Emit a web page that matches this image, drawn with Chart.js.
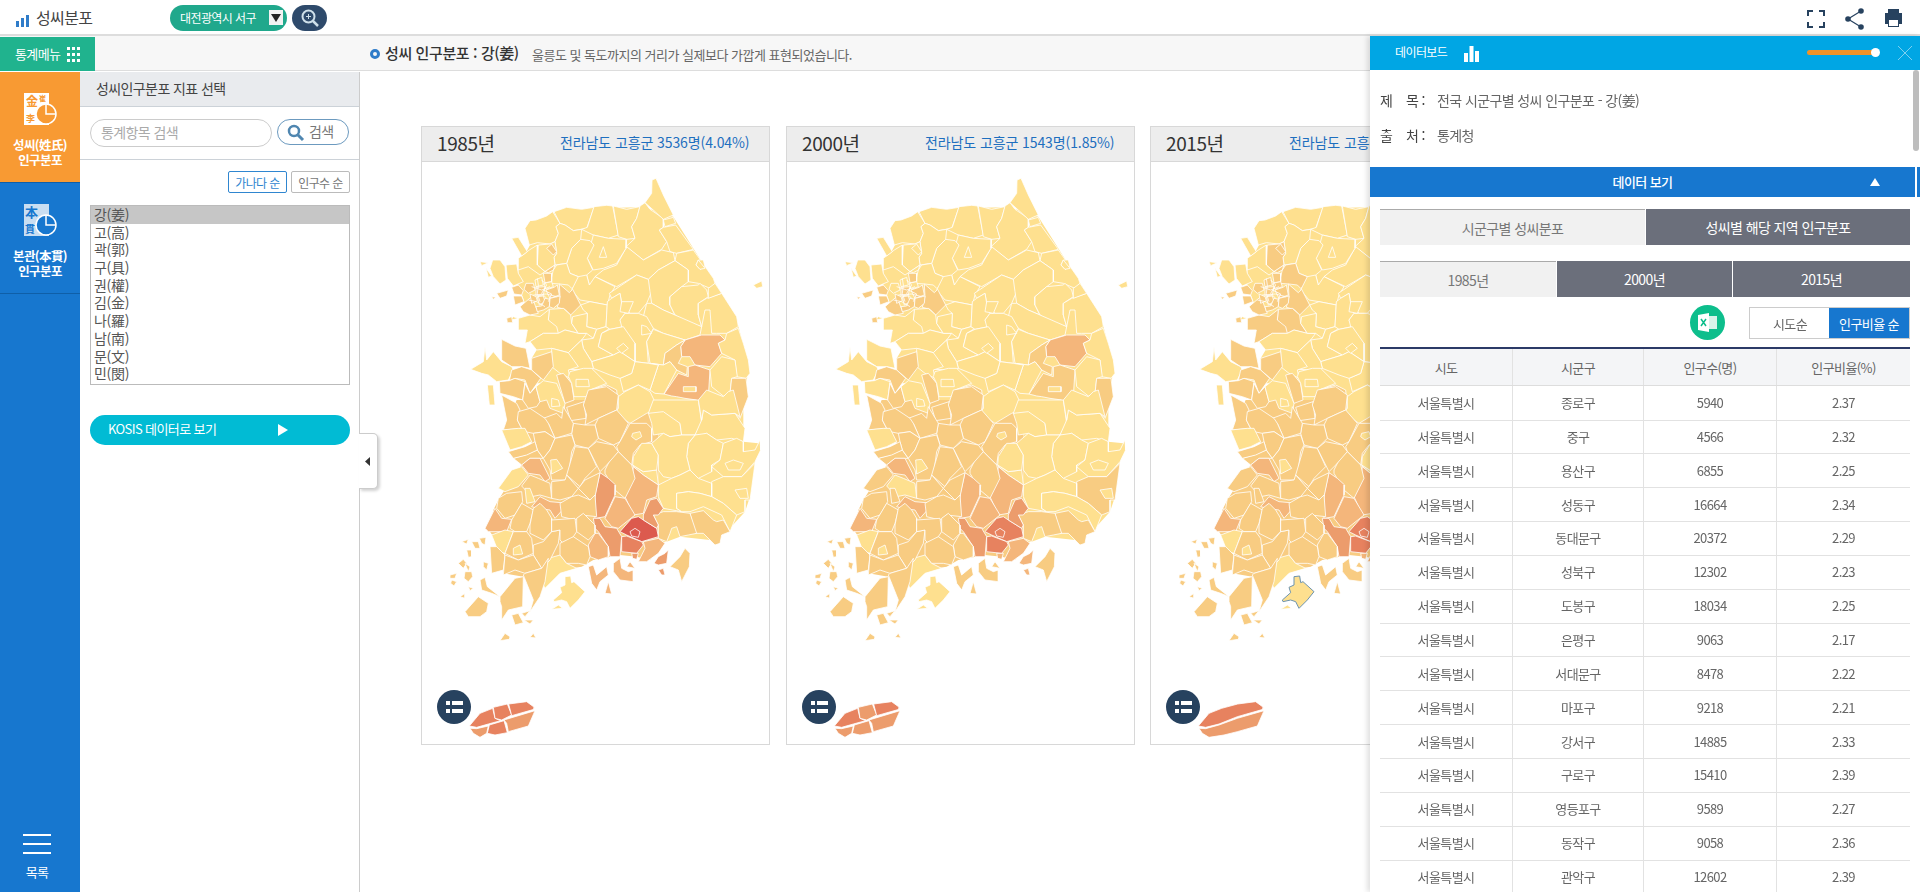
<!DOCTYPE html>
<html lang="ko">
<head>
<meta charset="utf-8">
<title>성씨분포</title>
<script src="https://cdn.jsdelivr.net/npm/chart.js@4/dist/chart.umd.min.js"></script>
<style>
html,body{margin:0;padding:0;width:1920px;height:892px;overflow:hidden;background:#fff;font-family:"Noto Sans CJK KR","Noto Sans",sans-serif;letter-spacing:-.6px}
.a{position:absolute;box-sizing:border-box;white-space:nowrap}
.c{display:flex;align-items:center;justify-content:center}
.box{position:absolute;top:126px;height:619px;width:349px;border:1px solid #d8d8d8;background:#fff;box-sizing:border-box}
.box .hd{position:absolute;left:0;top:0;right:0;height:34px;background:#ededed;border-bottom:1px solid #d8d8d8}
.box .yr{position:absolute;left:15px;top:2px;font-size:19px;color:#333;letter-spacing:-.4px}
.box .cap{position:absolute;left:138px;top:5px;font-size:14px;color:#1e6fbf;letter-spacing:-.1px}
.map{position:absolute;top:170px;width:320px;height:580px}
.lg{position:absolute;top:690px;width:34px;height:34px;border-radius:50%;background:#27425f}
.lg i{position:absolute;background:#fff;height:4px}
.row{position:absolute;left:1380px;width:530px;height:34px;border-bottom:1px solid #e2e2e2;font-size:13px;color:#666}
.row span,.th span{position:absolute;top:0;bottom:0;display:flex;align-items:center;justify-content:center;border-right:1px solid #e2e2e2;box-sizing:border-box}
.th span{font-size:13px;color:#666}
.s1{left:0;width:133px}.s2{left:133px;width:131px}.s3{left:264px;width:133px}.s4{left:397px;width:133px;border-right:0!important}
#list div{height:17.700px;line-height:17.700px;padding-left:3px;font-size:14px;color:#555;letter-spacing:-.3px}
</style>
</head>
<body>
<!-- top bar -->
<div class="a" style="left:0;top:0;width:1920px;height:36px;border-bottom:2px solid #ddd"></div>
<svg class="a" style="left:15px;top:14px" width="15" height="13"><rect x="1" y="7" width="3" height="6" fill="#2f7cc9"/><rect x="6" y="4" width="3" height="9" fill="#2f7cc9"/><rect x="11" y="1" width="3" height="12" fill="#2f7cc9"/></svg>
<div class="a" style="left:36px;top:5px;font-size:16px;color:#444">성씨분포</div>
<div class="a" style="left:170px;top:5px;width:117px;height:26px;border-radius:13px;background:#20a88c;color:#fff;font-size:12px;padding:4px 0 0 10px">대전광역시 서구</div>
<div class="a c" style="left:269px;top:10px;width:14px;height:15px;background:#f2f2f2"><svg width="10" height="8"><path d="M0 0H10L5 8Z" fill="#222"/></svg></div>
<div class="a c" style="left:292px;top:5px;width:35px;height:26px;border-radius:13px;background:#2e4a6b"><svg width="20" height="20"><circle cx="8.5" cy="8.5" r="6" fill="none" stroke="#cfe0ea" stroke-width="2"/><path d="M13 13L18 18" stroke="#cfe0ea" stroke-width="2.5"/><path d="M6 8.500H11M8.500 6V11" stroke="#cfe0ea"/></svg></div>
<svg class="a" style="left:1806px;top:8px" width="106" height="22"><path d="M2 7V2H7M13 2H18V7M18 13V18H13M7 18H2V13" transform="translate(0,1)" fill="none" stroke="#27425f" stroke-width="2"/>
<circle cx="42" cy="11" r="2.800" fill="#27425f"/><circle cx="55" cy="3" r="2.800" fill="#27425f"/><circle cx="55" cy="19" r="2.800" fill="#27425f"/><path d="M55 3L42 11L55 19" fill="none" stroke="#27425f" stroke-width="1.200"/>
<g transform="translate(-6,0)"><path d="M88 5V1H99V5H102V16H99V19H88V16H85V5Z" fill="#27425f"/><rect x="89" y="12" width="9" height="6" fill="#fff"/></g></svg>
<!-- menu strip -->
<div class="a" style="left:0;top:36px;width:1920px;height:35px;background:#f7f7f7;border-bottom:1px solid #ddd"></div>
<div class="a" style="left:0;top:37px;width:95px;height:34px;background:#20b38e;color:#fff;font-size:13px;padding:7px 0 0 15px">통계메뉴</div>
<svg class="a" style="left:67px;top:47px" width="14" height="16" fill="#fff"><rect x="0" y="0" width="3" height="3"/><rect x="5" y="0" width="3" height="3"/><rect x="10" y="0" width="3" height="3"/><rect x="0" y="6" width="3" height="3"/><rect x="5" y="6" width="3" height="3"/><rect x="10" y="6" width="3" height="3"/><rect x="0" y="12" width="3" height="3"/><rect x="5" y="12" width="3" height="3"/><rect x="10" y="12" width="3" height="3"/></svg>
<svg class="a" style="left:370px;top:48px" width="12" height="12"><circle cx="5" cy="6" r="3.500" fill="none" stroke="#2f7cc9" stroke-width="3"/></svg>
<div class="a" style="left:385px;top:42px;font-size:15px;color:#333;font-weight:500;letter-spacing:-.4px">성씨 인구분포 : 강(姜)</div>
<div class="a" style="left:532px;top:45px;font-size:13px;color:#666;letter-spacing:-.5px">울릉도 및 독도까지의 거리가 실제보다 가깝게 표현되었습니다.</div>
<!-- left rail -->
<div class="a" style="left:0;top:72px;width:80px;height:820px;background:#1777cf"></div>
<div class="a" style="left:0;top:72px;width:80px;height:110px;background:#f89a33"></div>
<div class="a" style="left:0;top:182px;width:80px;height:1px;background:#0f5fa8"></div>
<div class="a" style="left:0;top:293px;width:80px;height:1px;background:#0f5fa8"></div>
<svg class="a" style="left:22px;top:92px" width="36" height="34"><rect x="2" y="1" width="25" height="32" fill="#fff"/><text x="4" y="14" font-size="12" font-weight="700" fill="#f89a33">金</text><text x="17" y="9" font-size="7" font-weight="700" fill="#f89a33">崔</text><text x="4" y="30" font-size="9" font-weight="700" fill="#f89a33">李</text><circle cx="24" cy="22" r="10" fill="#f89a33" stroke="#fff" stroke-width="1.500"/><path d="M24 12V22H34" fill="none" stroke="#fff" stroke-width="1.500"/></svg>
<div class="a" style="left:0;top:137px;width:80px;text-align:center;color:#fff;font-size:12.500px;font-weight:700;line-height:15px">성씨(姓氏)<br>인구분포</div>
<svg class="a" style="left:22px;top:203px" width="36" height="34"><rect x="2" y="1" width="25" height="32" fill="#c9def2"/><text x="3" y="14" font-size="13" font-weight="700" fill="#1777cf">本</text><text x="3" y="30" font-size="10" font-weight="700" fill="#1777cf">貫</text><circle cx="24" cy="22" r="10" fill="#1777cf" stroke="#fff" stroke-width="1.500"/><path d="M24 12V22H34" fill="none" stroke="#fff" stroke-width="1.500"/></svg>
<div class="a" style="left:0;top:248px;width:80px;text-align:center;color:#fff;font-size:12.500px;font-weight:700;line-height:15px">본관(本貫)<br>인구분포</div>
<div class="a" style="left:23px;top:834px;width:28px;height:2px;background:#fff"></div>
<div class="a" style="left:23px;top:843px;width:28px;height:2px;background:#fff"></div>
<div class="a" style="left:23px;top:852px;width:28px;height:2px;background:#fff"></div>
<div class="a" style="left:0;top:862px;width:74px;text-align:center;color:#fff;font-size:13px">목록</div>
<!-- indicator panel -->
<div class="a" style="left:80px;top:72px;width:280px;height:820px;border-right:1px solid #ccc"></div>
<div class="a" style="left:80px;top:72px;width:279px;height:35px;background:#e9ebee;border-bottom:1px solid #ccd2d8;font-size:14px;color:#444;padding:6px 0 0 16px">성씨인구분포 지표 선택</div>
<div class="a" style="left:90px;top:119px;width:182px;height:28px;border:1px solid #ccc;border-radius:14px;font-size:14px;color:#aaa;padding:2px 0 0 10px">통계항목 검색</div>
<div class="a" style="left:277px;top:119px;width:72px;height:26px;border:1px solid #6c9abf;border-radius:13px;font-size:14px;color:#777;padding:1px 0 0 31px">검색</div>
<svg class="a" style="left:287px;top:124px" width="18" height="18"><circle cx="7" cy="7" r="5" fill="none" stroke="#4f86b0" stroke-width="2.500"/><path d="M11 11L16 16" stroke="#4f86b0" stroke-width="3"/></svg>
<div class="a" style="left:80px;top:159px;width:279px;height:1px;background:#ccd2d8"></div>
<div class="a c" style="left:228px;top:171px;width:59px;height:22px;border:1px solid #2f86d0;border-radius:2px;font-size:12px;color:#2f86d0">가나다 순</div>
<div class="a c" style="left:291px;top:171px;width:59px;height:22px;border:1px solid #bbb;border-radius:2px;font-size:12px;color:#777">인구수 순</div>
<div class="a" id="list" style="left:90px;top:205px;width:260px;height:180px;border:1px solid #bbb"></div>
<div class="a" style="left:90px;top:415px;width:260px;height:30px;border-radius:15px;background:#01bbd4;color:#fff;font-size:13px;padding:4px 0 0 18px">KOSIS 데이터로 보기</div>
<svg class="a" style="left:278px;top:424px" width="11" height="12"><path d="M0 0L10 6L0 12Z" fill="#fff"/></svg>
<div class="a c" style="left:359px;top:433px;width:19px;height:56px;background:#fff;border:1px solid #ccc;border-left:0;border-radius:0 5px 5px 0;box-shadow:2px 2px 3px rgba(0,0,0,.18)"><svg width="6" height="9"><path d="M5 0V9L0 4.500Z" fill="#333"/></svg></div>
<!-- map boxes are added here -->
<div id="maps"></div>
<!-- data board -->
<div class="a" style="left:1370px;top:36px;width:550px;height:856px;background:#fff;box-shadow:-3px 0 5px rgba(0,0,0,.12)"></div>
<div class="a" style="left:1370px;top:36px;width:550px;height:34px;background:#00a6e4"></div>
<div class="a" style="left:1395px;top:43px;font-size:12px;color:#fff">데이터보드</div>
<svg class="a" style="left:1464px;top:46px" width="15" height="16" fill="#fff"><rect x="0" y="7" width="4" height="9"/><rect x="5.500" y="0" width="4" height="16"/><rect x="11" y="5" width="4" height="11"/></svg>
<div class="a" style="left:1807px;top:50px;width:70px;height:5px;border-radius:3px;background:#f09227"></div>
<div class="a" style="left:1871px;top:48px;width:9px;height:9px;border-radius:50%;background:#fff"></div>
<svg class="a" style="left:1898px;top:46px" width="14" height="14"><path d="M0 0L14 14M14 0L0 14" stroke="#7fd0ef" stroke-width="1"/></svg>
<div class="a" style="left:1380px;top:90px;font-size:14px;color:#444">제</div>
<div class="a" style="left:1406px;top:90px;font-size:14px;color:#444">목 :</div>
<div class="a" style="left:1437px;top:90px;font-size:14px;color:#666">전국 시군구별 성씨 인구분포 - 강(姜)</div>
<div class="a" style="left:1380px;top:125px;font-size:14px;color:#444">출</div>
<div class="a" style="left:1406px;top:125px;font-size:14px;color:#444">처 :</div>
<div class="a" style="left:1437px;top:125px;font-size:14px;color:#666">통계청</div>
<div class="a" style="left:1913px;top:70px;width:6px;height:81px;border-radius:3px;background:#bdbdbd"></div>
<div class="a c" style="left:1370px;top:167px;width:545px;height:30px;background:#1777cf;color:#fff;font-size:13px;font-weight:500;padding-bottom:2px">데이터 보기</div>
<div class="a" style="left:1917px;top:167px;width:3px;height:30px;background:#1777cf"></div>
<svg class="a" style="left:1870px;top:178px" width="10" height="8"><path d="M5 0L10 8H0Z" fill="#fff"/></svg>
<div class="a c" style="left:1380px;top:209px;width:265px;height:36px;background:#f1f1f1;border-top:1px solid #aaa;color:#777;font-size:14px">시군구별 성씨분포</div>
<div class="a c" style="left:1646px;top:209px;width:264px;height:36px;background:#6b6f7b;color:#fff;font-size:14px">성씨별 해당 지역 인구분포</div>
<div class="a c" style="left:1380px;top:261px;width:176px;height:36px;background:#f1f1f1;border-top:1px solid #aaa;color:#777;font-size:14px">1985년</div>
<div class="a c" style="left:1557px;top:261px;width:175px;height:36px;background:#6b6f7b;color:#fff;font-size:14px">2000년</div>
<div class="a c" style="left:1733px;top:261px;width:177px;height:36px;background:#6b6f7b;color:#fff;font-size:14px">2015년</div>
<div class="a" style="left:1690px;top:305px;width:35px;height:35px;border-radius:50%;background:#0dbe8c"></div>
<svg class="a" style="left:1698px;top:313px" width="20" height="19"><rect x="9" y="3" width="10" height="13" fill="#d8f3ea"/><path d="M0 2L11 0V19L0 17Z" fill="#fff"/><path d="M3 6L8 13M8 6L3 13" stroke="#0dbe8c" stroke-width="1.500"/></svg>
<div class="a c" style="left:1749px;top:307px;width:81px;height:32px;border:1px solid #ccc;border-right:0;font-size:13px;color:#666">시도순</div>
<div class="a c" style="left:1829px;top:307px;width:81px;height:32px;border:1px solid #ccc;border-left:0;background:#1777cf;color:#fff;font-size:13px">인구비율 순</div>
<div class="a" style="left:1380px;top:347px;width:530px;height:2px;background:#2b3a67"></div>
<div class="a th" style="left:1380px;top:349px;width:530px;height:37px;background:#f4f5f7;border-bottom:1px solid #ddd" id="thead"></div>
<div id="tbody"></div>

<script>
// header texts
const surnames = ['강(姜)','고(高)','곽(郭)','구(具)','권(權)','김(金)','나(羅)','남(南)','문(文)','민(閔)'];
const years = ['1985년','2000년','2015년'];
// the 2015 caption runs under the data board, only its start can be read
const captions = ['전라남도 고흥군 3536명(4.04%)','전라남도 고흥군 1543명(1.85%)','전라남도 고흥군'];
const tableHead = ['시도','시군구','인구수(명)','인구비율(%)'];

// table
const cityNames = ['종로구','중구','용산구','성동구','동대문구','성북구','도봉구','은평구','서대문구','마포구','강서구','구로구','영등포구','동작구','관악구'];
const cityPeople = [5940,4566,6855,16664,20372,12302,18034,9063,8478,9218,14885,15410,9589,9058,12602];
const cityShare = [2.37,2.32,2.25,2.34,2.29,2.23,2.25,2.17,2.22,2.21,2.33,2.39,2.27,2.36,2.39];

// shade class colours, light to dark
const classColors = ['#fee08f','#f8cc82','#f4b67b','#ec9c6c','#e7825f','#dc5a4e'];

// plain land under the regions, so no paper shows between them
const landNorth = [240,225,310,130,430,115,570,112,610,120,670,140,790,330,860,450,895,580,890,640,870,740,500,740,350,700,270,640,190,640,190,610,245,600,245,565,260,540,230,500,250,440,225,400,205,345,205,290];
const landSouthWest = [160,90,245,125,240,160,215,195,170,260,145,300,130,330,120,395,165,460,160,520,220,530,270,585,285,540,330,510,395,500,430,480,510,465,560,470,600,480,625,430,625,0,200,0];
const landSouthEast = [625,0,625,430,650,425,690,410,780,420,835,390,885,335,900,290,915,185,925,130,880,125,880,0];

// region outlines: code = shade class in 1985/2000/2015, then [u,v] points
const northRegions = [
['000',[225,175,240,152,258,150,290,138,308,125,330,160,318,170,325,190,315,215,300,222,262,218,238,225]],
['000',[312,125,350,112,395,118,432,112,410,175,370,182,345,165,330,160]],
['000',[432,110,470,106,488,108,505,195,475,205,430,195,395,178,412,172]],
['000',[490,108,530,118,570,110,560,145,545,170,555,205,530,208,505,200]],
['000',[570,108,585,98,600,118,640,145,640,172,628,180,650,215,635,238,580,270,528,230,555,205,545,170,560,145]],
['000',[585,98,605,70,606,30,618,25,640,75,670,135,640,148,612,122]],
['000',[640,150,670,142,677,160,645,170]],
['000',[677,165,730,238,680,250,660,245,650,215,628,180,640,172]],
['000',[730,240,750,268,790,325,795,340,780,355,745,340,715,335,715,300,675,272,680,250]],
['000',[580,270,635,240,670,248,675,272,625,300,595,328,560,315,500,350,435,320,460,300,500,285,530,230]],
['000',[430,195,475,205,530,208,528,235,500,280,460,295,430,300,412,265,422,225]],
['000',[392,208,420,212,432,225,412,265,428,300,410,315,418,345,395,342,385,320,360,310,350,280,365,235]],
['000',[330,160,345,165,370,182,395,178,392,208,365,235,350,280,315,285,312,262,320,250,315,215,325,190,318,170]],
['001',[265,225,300,222,315,215,320,250,312,262,315,285,285,305,262,285]],
['000',[205,265,238,240,262,225,262,285,285,305,270,315,235,290,205,300]],
['101',[290,235,305,222,320,245,310,255]],
['000',[168,285,200,282,205,310,220,335,190,348,172,325]],
['000',[128,270,150,270,165,290,168,330,150,342,130,320,120,295]],
['000',[90,275,115,278,95,287]],
['000',[910,345,935,333,938,350,920,355]],
['000',[185,205,205,202,232,245,215,258]],
['000',[108,295,125,318,115,322]],
['001',[320,285,350,280,360,310,385,320,395,342,365,355,355,345,330,342,300,340,310,300]],
['101',[285,305,315,285,310,300,295,308]],
['000',[385,320,410,315,418,345,435,320,495,350,480,375,472,405,420,395,390,390,365,360]],
['111',[328,342,358,368,368,358,392,405,362,435,345,418,322,412,330,380]],
['000',[392,405,420,395,472,405,468,470,440,478,410,470,412,430,400,420]],
['001',[298,418,340,415,362,435,365,460,385,490,345,480,325,490,295,450]],
['001',[205,445,240,435,270,440,298,418,295,450,320,470,325,490,280,490,240,515,225,520,232,480,205,480]],
['000',[240,515,280,490,325,490,345,480,385,490,410,490,395,510,355,548,305,535,260,540]],
['000',[368,440,412,430,410,470,440,478,430,505,410,490,385,490,365,460]],
['000',[395,510,430,505,440,478,468,470,480,475,455,490,445,530,490,555,425,575,400,535]],
['000',[478,370,560,315,600,330,605,365,590,400,565,430,540,430,515,400,510,370,485,385]],
['000',[472,395,485,385,510,370,515,400,525,430,510,450,520,470,480,478,468,470]],
['000',[595,328,625,300,675,272,715,300,715,335,695,350,660,380,660,405,675,435,640,420,605,400,600,365]],
['000',[660,380,695,350,745,345,750,340,770,360,775,380,745,400,745,435,755,470,715,460,675,435,660,405]],
['000',[738,285,745,270,760,270,765,290,750,298]],
['000',[770,385,815,370,860,440,865,470,830,490,800,490,785,490,780,420,765,420,755,470,745,435,745,400]],
['000',[795,340,815,370,775,385,775,355]],
['000',[605,400,640,420,675,435,755,470,750,495,705,510,640,490,610,475,580,440,590,400]],
['000',[525,430,540,430,565,430,590,440,610,475,590,515,595,580,555,575,555,520,520,490,510,450]],
['000',[480,478,520,470,555,520,555,575,510,545,490,555,445,530,455,490]],
['000',[610,478,640,490,705,510,680,525,645,550,640,585,600,580,590,515]],
['222',[705,510,755,495,810,495,825,510,805,520,815,550,780,590,735,585,720,560,695,560,692,530]],
['000',[830,490,865,475,880,520,895,570,900,610,888,625,860,620,855,570,815,550,805,520,825,510]],
['111',[640,585,645,550,680,525,705,510,692,530,695,560,685,580,712,590,710,615,680,600,660,575]],
['211',[642,672,685,610,715,620,715,590,735,585,780,600,775,680,765,735,750,710,740,690,705,685,680,680,665,678]],
['000',[780,600,815,560,855,570,862,620,845,625,840,670,820,678,785,650]],
['111',[845,625,888,625,895,680,870,745,850,725,825,680,840,670]],
['000',[600,580,640,585,660,575,680,600,642,672,615,670,600,660,625,585]],
['000',[510,625,545,610,555,575,595,580,625,585,600,660,565,645,520,665]],
['000',[425,575,490,555,510,545,555,575,545,610,510,625,480,615,430,595]],
['000',[355,548,395,510,400,535,425,575,430,595,410,600,355,598]],
['000',[305,535,355,548,385,590,355,600,360,625,330,610,305,590]],
['101',[155,508,195,528,228,535,240,595,215,590,185,590,155,570]],
['000',[62,598,100,575,105,530,110,570,130,545,155,575,185,590,190,600,175,630,140,635,115,615,95,610]],
['000',[112,645,130,645,135,705,118,705]],
['111',[245,565,305,545,310,590,280,630,245,600]],
['111',[185,600,215,590,245,600,272,625,240,670,225,630,195,625,178,632]],
['101',[148,635,178,632,195,625,225,635,218,690,190,680,150,670]],
['111',[155,675,200,700,210,720,202,750,215,775,160,780,170,750]],
['111',[218,690,225,640,240,670,258,650,270,695,260,710,235,715]],
['000',[258,650,280,632,320,640,345,700,340,730,300,715,290,690,270,695]],
['000',[305,685,325,690,330,708,305,710]],
['111',[320,615,340,610,365,640,372,690,345,700,330,650]],
['000',[360,605,400,595,425,595,470,640,420,660,410,680,372,680,365,640,355,620]],
['000',[378,628,415,628,418,650,378,650]],
['111',[420,660,470,645,500,660,505,715,470,710,415,720,410,680]],
['000',[505,680,525,665,565,645,600,665,612,690,610,720,590,730,540,760,495,730,505,715]],
['000',[460,230,470,262,448,262]],
['000',[520,520,535,535,515,550,500,535]],
['000',[700,650,738,650,738,665,700,665]],
['000',[745,270,765,295,750,298,738,285]],
['000',[575,465,590,470,605,490,575,495]],
['000',[515,395,550,395,535,430,510,425]],
['111',[350,712,402,695,408,745,362,752]],
['000',[205,445,185,450,172,455,190,440]],
['111',[140,370,175,360,170,378,150,385]],
['111',[170,445,185,440,188,458,172,458]],
['111',[125,380,138,382,130,388]],
// Seoul and Incheon cells
['111',[185,352,205,345,220,362,215,375,192,372]],
['111',[190,378,215,378,222,395,195,405]],
['111',[210,410,245,380,255,405,265,430,240,435,220,425]],
['111',[280,310,305,310,305,335,285,338]],
['101',[228,340,250,340,255,360,235,370,222,358]],
['001',[255,330,275,322,280,345,258,350]],
['001',[282,340,305,335,310,350,288,358]],
['111',[258,352,285,350,280,375,258,378]],
['111',[288,360,312,352,322,345,328,375,300,385]],
['111',[240,372,258,380,262,392,245,400]],
['111',[262,380,280,378,285,395,268,405]],
['111',[285,385,300,388,298,410,280,420,262,425,258,410,275,408]],
['111',[300,385,330,378,328,400,310,415,298,410]],
];
const seoulLines = [
[262,325,265,345,262,370,270,395],[275,330,290,345,275,370,290,385],[245,350,275,360,300,350],[250,375,290,372,320,380],
[280,360,305,372,295,395],[235,390,260,395,285,410],
];

// south half, v is measured from row 690
const southRegions = [
['111',[400,15,415,-30,470,-40,505,-15,500,30,445,55,405,75,410,45]],
['111',[445,55,500,30,535,70,510,125,490,135,445,115,435,75]],
['111',[370,70,405,75,435,75,445,115,415,145,375,135,365,100]],
['111',[280,55,320,40,335,55,340,20,370,70,365,100,315,115,295,70]],
['111',[205,35,240,25,285,55,295,70,315,115,285,95,250,100,225,95,215,85,202,60]],
['111',[225,165,262,150,280,175,240,175,215,195,190,175]],
['111',[250,100,285,95,315,115,300,150,280,175,262,150,255,125]],
['000',[548,195,580,215,620,210,625,255,580,225,550,200]],
['111',[540,70,590,70,605,85,605,125,570,135,550,160,545,195,505,155,500,140,510,125]],
['000',[548,100,570,95,575,110,558,120,545,110]],
['000',[550,170,575,130,605,130,625,165,620,210,580,215,548,195]],
['000',[605,70,595,40,640,20,690,70,695,105,660,110,640,100,610,105]],
['000',[610,0,745,0,755,70,735,105,695,105,690,70,640,35,595,40]],
['000',[755,60,760,30,785,45,855,40,885,85,880,125,845,115,800,120,770,100,755,105,735,105]],
['000',[745,0,770,-30,820,-10,835,-25,850,-30,870,50,855,40,785,45,760,30,755,60]],
['000',[715,130,735,105,770,100,800,120,820,130,810,180,785,195,785,215,745,235,720,210,710,170]],
['000',[605,130,640,100,660,110,695,105,735,105,715,130,710,170,720,210,690,225,665,235,640,230,625,210,625,165]],
['000',[820,130,860,115,880,125,880,155,915,150,930,120,932,150,915,185,875,230,820,230,785,200,810,180]],
['000',[825,190,850,180,880,190,870,210,835,210]],
['010',[875,230,915,190,900,300,885,300,885,335,860,345,820,310,785,290,785,245,820,230]],
['000',[855,270,890,265,895,295,870,295]],
['000',[625,255,665,235,690,225,720,210,745,235,785,250,785,290,750,280,715,275,680,280,680,325,695,335,640,325,625,290]],
['000',[680,280,715,275,750,280,785,290,820,310,860,345,840,395,815,345,760,320,720,335,695,335,680,325]],
['111',[720,340,760,332,790,360,800,365,820,360,840,395,815,405,810,430,795,435,780,420,760,400,735,400]],
['111',[640,335,680,335,720,340,740,400,715,405,690,410,680,380,665,385,660,400,650,425,625,415,625,375,610,345]],
['222',[550,200,580,225,625,255,620,290,590,300,580,340,550,345,525,290,545,240]],
['111',[465,210,480,180,505,155,545,195,555,235,525,295,495,270,465,220]],
['322',[450,218,475,235,497,255,495,285,465,350,437,355,435,285]],
['222',[495,290,525,295,555,345,505,385,485,380,465,355]],
['544',[510,395,545,355,565,350,580,360,620,385,625,410,575,425,530,405]],
['544',[540,395,555,385,570,395,565,412,545,408]],
['444',[515,410,530,408,575,425,580,435,560,460,515,455]],
['322',[545,460,565,460,560,478,548,475]],
['333',[580,345,600,300,620,295,640,325,625,345,610,345,625,375,620,385,580,360]],
['222',[580,425,625,415,645,430,625,460,590,485,565,485,585,445]],
['333',[430,355,450,355,465,380,500,385,515,410,510,470,480,470,475,440,445,395,435,385]],
['211',[435,400,445,400,475,440,475,470,445,480,420,470,415,435]],
['111',[690,470,705,445,720,460,718,500,695,545,685,510,660,500]],
['321',[625,470,645,460,655,450,650,490,625,495,612,490]],
['321',[625,510,640,505,645,525,635,525]],
['211',[490,490,510,475,515,505,535,515,550,510,550,545,510,540,490,515]],
['211',[530,500,540,485,555,505]],
['211',[415,500,430,495,440,525,470,500,475,525,450,545,440,570,425,550]],
['211',[465,580,475,545,485,582]],
['000',[295,475,330,465,350,490,380,505,330,520,285,565,275,545,290,490]],
['000',[155,90,205,85,225,85,245,125,215,140,180,150]],
['111',[175,155,225,140,255,125,262,150,230,165,190,175]],
['222',[215,195,240,175,270,175,300,235,285,245,270,225,235,220]],
['011',[145,265,185,210,215,200,235,225,205,260,165,275]],
['111',[315,115,365,105,375,135,365,155,355,230,345,240,305,240,300,210,280,175,300,150]],
['000',[302,180,320,178,338,205,305,222]],
['111',[375,140,415,145,440,200,405,235,390,260,350,225]],
['111',[415,145,440,125,490,135,505,155,470,195,450,215,440,195]],
['111',[405,240,450,218,435,290,420,300,385,265]],
['111',[305,245,345,240,350,225,385,265,365,290,330,300,305,295]],
['101',[240,225,265,235,300,250,305,295,270,285,245,290,215,258]],
['222',[245,320,270,290,300,305,355,310,315,355,300,330,265,325]],
['000',[370,315,385,310,388,335,370,335]],
['111',[330,310,365,290,385,285,420,300,435,285,440,350,395,345,375,360,335,350]],
['111',[145,295,170,280,215,275,218,305,195,345,165,355,140,325]],
['222',[105,385,135,325,155,355,185,358,170,395,115,395]],
['011',[225,265,240,265,255,305,230,310]],
['111',[185,360,215,310,250,330,240,370,230,395,195,395,180,385]],
['111',[250,325,270,310,290,330,305,355,305,395,280,420,240,400,240,375]],
['000',[125,405,165,390,190,395,180,420,165,460,145,455]],
['111',[190,395,230,395,245,415,250,460,205,480,165,460]],
['000',[190,445,210,435,218,462,190,465]],
['111',[250,435,280,425,305,395,330,390,325,430,300,480,275,505,250,465]],
['111',[305,360,375,355,380,395,370,410,345,435,330,420,330,390,305,395]],
['111',[380,355,400,340,435,375,435,400,415,420,380,395]],
['111',[330,430,370,410,415,440,420,470,410,495,385,490,350,490,330,465]],
['111',[120,440,140,440,165,465,160,510,125,520]],
['111',[165,465,205,480,250,465,275,505,225,520,195,510,160,525]],
['111',[225,520,275,505,295,475,285,545,270,590,240,635,250,600,220,525]],
['111',[150,590,195,535,220,530,218,620,175,630,155,660,155,620,150,605]],
['111',[90,540,105,532,112,560,150,590,125,580,95,570]],
['111',[45,635,85,590,115,610,110,635,90,650,55,650]],
['111',[35,425,55,418,50,432]],
['111',[65,425,85,425,90,445,75,445]],
['111',[88,415,108,412,105,435,95,430]],
['111',[50,450,65,450,65,470,55,472]],
['111',[25,490,40,478,50,490,40,505]],
['111',[45,490,60,500,55,515]],
['111',[45,515,65,515,68,530,55,545,42,535]],
['111',[0,525,20,520,15,535,0,535]],
['111',[5,540,20,545,12,558,2,550]],
['111',[55,560,70,565,60,572]],
['111',[30,590,45,580,45,595]],
['111',[100,485,115,490,110,510,100,500]],
['111',[185,645,205,640,220,668,195,675]],
['111',[215,640,240,632,225,650]],
['111',[222,660,250,660,240,672]],
['111',[150,722,165,700,180,710,178,718]],
['111',[240,712,250,700,258,714]],
['000',[305,628,325,615,338,625]],
];
// Goheung, outlined in the 2015 map
const goheung = [310,600,335,578,330,562,345,555,345,530,362,528,365,548,372,545,405,575,385,600,360,625,350,605,335,600,312,605];

// Jeju, v measured from row 1440
const jejuOld = [
['444',[58,228,90,190,128,175,135,205,152,212,115,222,80,232]],
['433',[130,172,172,162,185,195,155,210,135,205]],
['444',[176,162,230,155,253,172,252,178,185,197]],
['333',[255,182,235,228,175,245,170,220,162,210]],
['433',[118,225,162,212,172,248,135,255,112,250]],
['333',[60,235,80,236,115,228,110,250,90,262,70,250]],
];
const jejuNew = [
['444',[58,228,90,190,128,175,176,162,230,155,253,172,252,178,175,200,120,222,80,232]],
['333',[255,182,235,228,175,245,135,255,90,262,70,250,60,235,80,236,120,225,175,205]],
];

// turn a flat point list into chart points, closed
function toPoints(flat, dv) {
  const pts = [];
  for (let i = 0; i < flat.length; i += 2) pts.push({ x: flat[i], y: flat[i + 1] + dv });
  pts.push({ x: flat[0], y: flat[1] + dv });
  return pts;
}

function regionSet(entry, yearIdx, dv) {
  const col = classColors[+entry[0][yearIdx]];
  return {
    data: toPoints(entry[1], dv), showLine: true, fill: 'shape', tension: 0,
    backgroundColor: col, borderColor: '#fff', borderWidth: 0.8, pointRadius: 0,
  };
}

function landSet(flat, dv, cls) {
  return {
    data: toPoints(flat, dv), showLine: true, fill: 'shape', tension: 0,
    backgroundColor: classColors[cls], borderColor: classColors[cls], borderWidth: 0, pointRadius: 0,
  };
}

function drawMap(canvas, yearIdx) {
  // chart.js paints the first dataset last, so the list is reversed at the end
  const sets = [landSet(landNorth, 0, 0), landSet(landSouthWest, 690, 1), landSet(landSouthEast, 690, 0)];
  northRegions.forEach(r => sets.push(regionSet(r, yearIdx, 0)));
  seoulLines.forEach(l => {
    const pts = toPoints(l, 0); pts.pop();
    sets.push({ data: pts, showLine: true, fill: false, borderColor: '#fff', borderWidth: 0.8, pointRadius: 0 });
  });
  southRegions.forEach(r => sets.push(regionSet(r, yearIdx, 690)));
  (yearIdx === 2 ? jejuNew : jejuOld).forEach(r => sets.push(regionSet(r, yearIdx, 1440)));
  sets.push({
    data: toPoints(goheung, 690), showLine: true, fill: 'shape', tension: 0, backgroundColor: classColors[0],
    borderColor: yearIdx === 2 ? '#6d93ad' : '#fff', borderWidth: yearIdx === 2 ? 1 : 0.8, pointRadius: 0,
  });
  sets.reverse();
  new Chart(canvas, {
    type: 'scatter',
    data: { datasets: sets },
    options: {
      responsive: false, animation: false, clip: false,
      layout: { padding: 0 },
      plugins: { legend: { display: false }, tooltip: { enabled: false } },
      scales: {
        x: { type: 'linear', display: false, min: 0, max: 960 },
        y: { type: 'linear', display: false, min: 0, max: 1740, reverse: true },
      },
    },
  });
}

// left list
document.getElementById('list').innerHTML = surnames.map((s, i) =>
  `<div${i === 0 ? ' style="background:#c6c6c6"' : ''}>${s}</div>`).join('');

// table
const colCls = ['s1', 's2', 's3', 's4'];
document.getElementById('thead').innerHTML = tableHead.map((t, i) => `<span class="${colCls[i]}">${t}</span>`).join('');
document.getElementById('tbody').innerHTML = cityNames.map((n, i) => `
  <div class="row" style="top:${385.5 + i * 33.85}px">
    <span class="s1">서울특별시</span><span class="s2">${n}</span>
    <span class="s3">${cityPeople[i]}</span><span class="s4">${cityShare[i]}</span>
  </div>`).join('');

// maps
const boxLeft = [421, 786, 1150];
const mapLeft = [450, 815, 1179];
const wrap = document.getElementById('maps');
years.forEach((y, i) => {
  wrap.insertAdjacentHTML('beforeend', `
    <div class="box" style="left:${boxLeft[i]}px"><div class="hd"><div class="yr">${y}</div><div class="cap">${captions[i]}</div></div></div>
    <canvas class="map" id="map${i}" width="320" height="580" style="left:${mapLeft[i]}px"></canvas>
    <div class="lg" style="left:${boxLeft[i] + 16}px"><i style="left:9px;top:11px;width:4px"></i><i style="left:15px;top:11px;width:11px"></i><i style="left:9px;top:19px;width:4px"></i><i style="left:15px;top:19px;width:11px"></i></div>`);
});
years.forEach((y, i) => drawMap(document.getElementById('map' + i), i));
</script>
</body>
</html>
